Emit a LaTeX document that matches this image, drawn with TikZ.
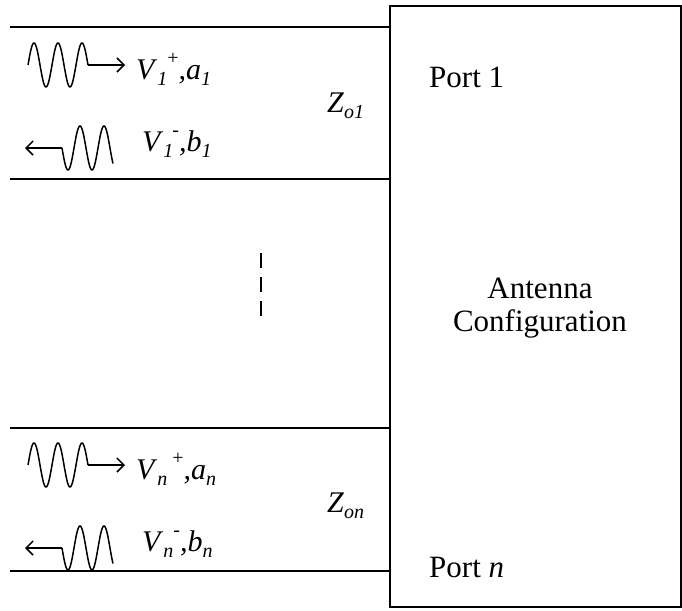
\documentclass[tikz,border=0pt]{standalone}
\usepackage{fontspec}
\setmainfont{Liberation Serif}
\usetikzlibrary{arrows.meta}
\newcommand\mysub[1]{\raisebox{-0.22em}{\fontsize{20}{20}\selectfont\textit{#1}}}
\newcommand\mysup[1]{\raisebox{0.5em}{\fontsize{20}{20}\selectfont #1}}
\tikzset{
  wire/.style={line width=1.6pt},
  wave/.style={line width=1.5pt, line join=round},
  tip/.style={-{Straight Barb[length=7pt,width=14pt,line width=1.5pt]}, line width=1.5pt},
  lbl/.style={inner sep=0pt, anchor=base west, font=\fontsize{30}{36}\selectfont},
  ctr/.style={inner sep=0pt, anchor=base, font=\fontsize{31}{36}\selectfont},
  dashline/.style={line width=1.6pt, dash pattern=on 15pt off 9pt}
}
\begin{document}
\begin{tikzpicture}[x=1pt,y=-1pt]
\useasboundingbox (0,0) rectangle (682,610);
% antenna box
\node[draw, line width=1.6pt, minimum width=291pt, minimum height=601pt, inner sep=0pt, anchor=north west] (box) at (389,5) {};
% transmission lines
\coordinate (l1a) at (10,27);  \coordinate (l1b) at (389,27);
\coordinate (l2a) at (10,179); \coordinate (l2b) at (389,179);
\coordinate (l3a) at (10,428); \coordinate (l3b) at (389,428);
\coordinate (l4a) at (10,571); \coordinate (l4b) at (389,571);
\draw[wire] (l1a) -- (l1b);
\draw[wire] (l2a) -- (l2b);
\draw[wire] (l3a) -- (l3b);
\draw[wire] (l4a) -- (l4b);
% port 1 waves
\coordinate (f1s) at (88,65); \coordinate (f1e) at (125,65);
\draw[wave] plot[domain=28:88, samples=120] (\x, {65 - 22*sin(15*(\x-28))});
\draw[tip] (f1s) -- (f1e);
\coordinate (b1s) at (62,148); \coordinate (b1e) at (25,148);
\draw[wave] plot[domain=62:113, samples=120] (\x, {148 + 22*sin(15*(\x-62))});
\draw[tip] (b1s) -- (b1e);
% port n waves
\coordinate (fns) at (88,465); \coordinate (fne) at (125,465);
\draw[wave] plot[domain=28:88, samples=120] (\x, {465 - 22*sin(15*(\x-28))});
\draw[tip] (fns) -- (fne);
\coordinate (bns) at (62,548); \coordinate (bne) at (25,548);
\draw[wave] plot[domain=62:113, samples=120] (\x, {548 + 22*sin(15*(\x-62))});
\draw[tip] (bns) -- (bne);
% labels
\node[lbl] (v1p) at (136,79) {\textit{V}\mysub{1}\mysup{+}\textit{,a}\mysub{1}};
\node[lbl] (v1m) at (142,151) {\textit{V}\mysub{1}\hspace{-1pt}\mysup{-}\textit{,b}\mysub{1}};
\node[lbl] (vnp) at (136,479) {\textit{V}\mysub{n}\,\mysup{+}\textit{,a}\mysub{n}};
\node[lbl] (vnm) at (142,551) {\textit{V}\mysub{n}\mysup{-}\textit{,b}\mysub{n}};
\node[lbl] (z1) at (327,112) {\textit{Z}\mysub{o1}};
\node[lbl] (zn) at (327,512) {\textit{Z}\mysub{on}};
\node[lbl, font=\fontsize{31}{36}\selectfont] (p1) at (429,87) {Port 1};
\node[lbl, font=\fontsize{31}{36}\selectfont] (pn) at (429,577) {Port \textit{n}};
\node[ctr] (ant) at (540,298) {Antenna};
\node[ctr] (cfg) at (540,331) {Configuration};
% vertical ellipsis
\coordinate (d1) at (261,253); \coordinate (d2) at (261,316);
\draw[dashline] (d1) -- (d2);
\end{tikzpicture}
\end{document}
